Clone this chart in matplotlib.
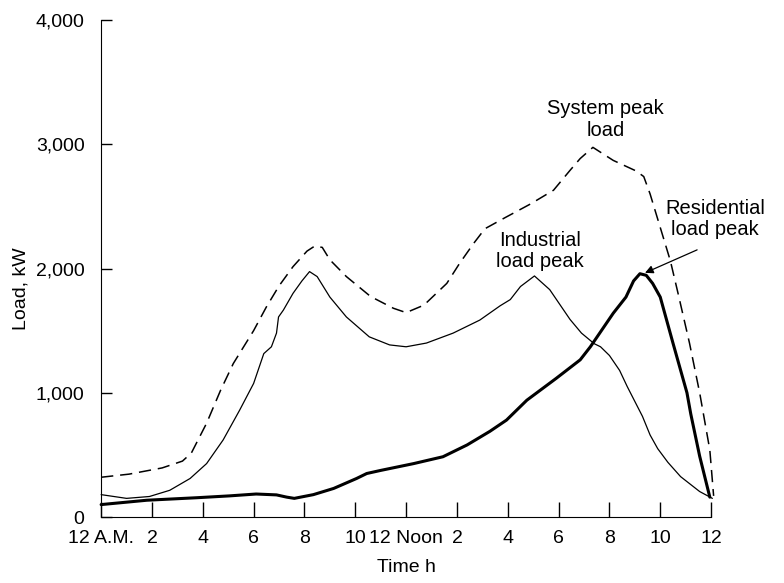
import matplotlib
matplotlib.use("Agg")
import matplotlib.pyplot as plt

plt.rcParams['font.family'] = ['Liberation Sans', 'DejaVu Sans']

# hours after midnight, load in kW
sys_h = [0, 1.1, 2.4, 3.2, 3.55, 4.15, 4.7, 5.2, 6.0, 6.5, 7.0, 7.55, 8.1, 8.4,
         8.7, 9.0, 9.65, 10.6, 11.5, 12.0, 12.7, 13.6, 14.1, 14.65, 15.1, 15.9,
         16.9, 17.8, 18.45, 18.85, 19.35, 20.15, 21.05, 21.35, 21.6, 22.0, 22.4,
         22.7, 23.15, 23.55, 23.95, 24.1]
sys_kw = [320, 345, 395, 450, 515, 755, 1020, 1235, 1500, 1690, 1860, 2015, 2140,
          2180, 2170, 2070, 1935, 1775, 1680, 1645, 1705, 1880, 2040, 2200, 2320,
          2410, 2520, 2630, 2790, 2885, 2975, 2870, 2785, 2740, 2600, 2330, 2060,
          1800, 1400, 1000, 540, 170]

ind_h = [0, 1.0, 1.9, 2.7, 3.5, 4.15, 4.8, 5.45, 6.0, 6.4, 6.7, 6.9, 6.98, 7.17,
         7.55, 7.9, 8.2, 8.5, 9.0, 9.65, 10.55, 11.35, 12.0, 12.8, 13.85, 14.9,
         15.7, 16.1, 16.5, 17.05, 17.65, 18.45, 18.9, 19.4, 19.65, 20.0, 20.4,
         20.7, 21.3, 21.6, 21.9, 22.3, 22.8, 23.55, 24.05]
ind_kw = [180, 150, 165, 215, 310, 430, 620, 860, 1075, 1315, 1370, 1480, 1610,
          1665, 1800, 1900, 1975, 1935, 1770, 1610, 1450, 1385, 1370, 1400, 1480,
          1585, 1700, 1750, 1855, 1940, 1830, 1590, 1480, 1395, 1370, 1300, 1180,
          1050, 810, 660, 550, 440, 325, 205, 150]

res_h = [0, 1.8, 3.75, 5.05, 6.1, 6.9, 7.3, 7.6, 8.35, 9.15, 10.05, 10.45, 11.0,
         12.3, 13.45, 14.4, 15.3, 15.95, 16.75, 17.9, 18.85, 19.25, 19.65, 20.15,
         20.65, 20.95, 21.2, 21.45, 21.7, 22.0, 22.5, 23.05, 23.2, 23.55, 23.95]
res_kw = [100, 135, 155, 170, 185, 178, 160, 150, 180, 230, 310, 350, 375, 430,
          485, 580, 690, 780, 940, 1115, 1265, 1370, 1490, 1640, 1770, 1900, 1958,
          1945, 1880, 1770, 1400, 1000, 830, 490, 160]

xticks = list(range(0, 25, 2))
xlabels = ['12 A.M.', '2', '4', '6', '8', '10', '12 Noon', '2', '4', '6', '8', '10', '12']
yticks = [0, 1000, 2000, 3000, 4000]
ylabels = ['0', '1,000', '2,000', '3,000', '4,000']

fig = plt.figure(figsize=(7.84, 5.83), dpi=100)
ax = fig.add_axes([0.129, 0.1132, 0.778, 0.8525])

line_kw = dict(color='black', clip_on=False, solid_joinstyle='round',
               solid_capstyle='round')
ax.plot(sys_h, sys_kw, lw=1.1, dashes=(8, 4.5), **line_kw)
ax.plot(ind_h, ind_kw, lw=0.9, **line_kw)
ax.plot(res_h, res_kw, lw=2.2, **line_kw)

ax.set_xlim(0, 24)
ax.set_ylim(0, 4000)
ax.spines['top'].set_visible(False)
ax.spines['right'].set_visible(False)

ax.set_xticks(xticks)
ax.set_xticklabels(xlabels)
ax.set_yticks(yticks)
ax.set_yticklabels(ylabels)
ax.tick_params(axis='x', direction='in', length=11, width=1, labelsize=14, pad=9)
ax.tick_params(axis='y', direction='in', length=8, width=1, labelsize=14, pad=12)

ax.set_xlabel('Time h', fontsize=14)
ax.xaxis.set_label_coords(0.5, -0.085)
ax.set_ylabel('Load, kW', fontsize=14)
ax.yaxis.set_label_coords(-0.118, 0.46)

ax.text(19.85, 3200, 'System peak\nload', ha='center', va='center', fontsize=14.5,
        linespacing=1.15)
ax.text(17.27, 2140, 'Industrial\nload peak', ha='center', va='center', fontsize=14.5,
        linespacing=1.15)
ax.text(24.15, 2400, 'Residential\nload peak', ha='center', va='center', fontsize=14.5,
        linespacing=1.15)
ax.annotate('', xy=(21.4, 1965), xytext=(23.45, 2150),
            arrowprops=dict(arrowstyle='-|>', color='black', lw=0.9,
                            mutation_scale=12, shrinkA=0, shrinkB=0))

fig.savefig('out.png', dpi=100)
